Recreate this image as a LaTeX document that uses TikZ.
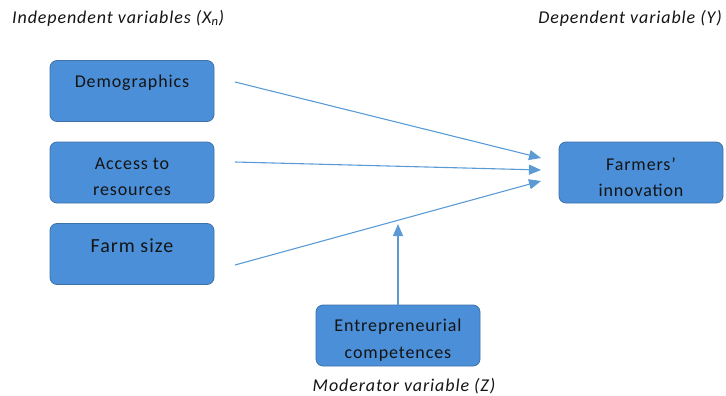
\documentclass[tikz,border=0pt]{standalone}
\usepackage{fontspec}
\setmainfont{Carlito}
\newfontfamily\boxfont[LetterSpace=5]{Carlito}
\usetikzlibrary{arrows.meta}
\definecolor{boxblue}{HTML}{4A8FD8}
\definecolor{boxedge}{HTML}{3F72A8}
\definecolor{arrowblue}{HTML}{5B9BD5}
\definecolor{txt}{HTML}{141414}
\begin{document}
\begin{tikzpicture}[x=1pt,y=-1pt,
  vbox/.style={draw=boxedge, fill=boxblue, line width=0.8pt, rounded corners=7pt, minimum width=164pt, minimum height=61pt, inner sep=0pt},
  btext/.style={text=txt, font=\boxfont\fontsize{18}{26.5}\selectfont, align=center, inner sep=0pt},
  ltext/.style={text=txt, font=\boxfont\itshape\fontsize{18}{20}\selectfont, inner sep=0pt},
  conn/.style={draw=arrowblue, line width=1.1pt, -{Triangle[length=12pt,width=10pt]}}
]
\useasboundingbox (0,0) rectangle (726,396);
\node[ltext, anchor=west] (indep) at (12,18) {Independent variables (X\textsubscript{n})};
\node[ltext, anchor=east] (dep) at (722,18) {Dependent variable (Y)};

\node[vbox] (demo) at (132,91) {};
\node[btext] (demotxt) at (132,83) {Demographics};
\node[vbox] (acc) at (132,172.5) {};
\node[btext] (acctxt) at (132,177) {Access to\\resources};
\node[vbox] (farm) at (132,254) {};
\node[btext, font=\boxfont\fontsize{20}{26}\selectfont] (farmtxt) at (132,246) {Farm size};
\node[vbox] (innov) at (641,172.5) {};
\node[btext] (innovtxt) at (641,177) {Farmers’\\innovation};
\node[vbox] (entr) at (398,335.5) {};
\node[btext] (entrtxt) at (398,340) {Entrepreneurial\\competences};
\node[ltext, anchor=center] (mod) at (404,386) {Moderator variable (Z)};

\coordinate (s1) at (235,82);
\coordinate (s2) at (235,162);
\coordinate (s3) at (235,265);
\coordinate (e1) at (541,158);
\coordinate (e2) at (541,170);
\coordinate (e3) at (541,181);
\coordinate (mtop) at (398,224);
\draw[conn] (s1) -- (e1);
\draw[conn] (s2) -- (e2);
\draw[conn] (s3) -- (e3);
\draw[conn] (entr.north) -- (mtop);
\end{tikzpicture}
\end{document}
